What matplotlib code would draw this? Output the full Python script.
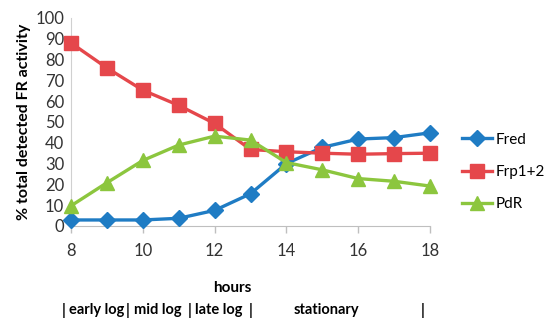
import matplotlib
matplotlib.use("Agg")
import matplotlib.pyplot as plt

hours = [8, 9, 10, 11, 12, 13, 14, 15, 16, 17, 18]
fred = [2.9, 2.9, 2.9, 3.7, 7.5, 15.5, 30, 37.8, 41.8, 42.5, 44.8]
frp = [88, 76, 65.3, 58, 49.3, 36.8, 35.7, 35, 34.5, 34.8, 35]
pdr = [9.7, 20.8, 31.5, 38.9, 43.2, 41.3, 30.5, 27, 22.8, 21.5, 19.2]
xticks = [8, 10, 12, 14, 16, 18]
yticks = list(range(0, 101, 10))
phase_labels = ['|', 'early log', '|', 'mid log', '|', 'late log', '|', 'stationary', '|']

plt.rcParams['font.family'] = ['Lato', 'DejaVu Sans']

fig = plt.figure(figsize=(5.5, 3.36), dpi=100)
ax = fig.add_axes([71/550, 1-226/336, (430-71)/550, (226-18)/336])

cb, cr, cg = '#1f7cc4', '#e5474b', '#8cc63e'
ax.plot(hours, fred, color=cb, lw=2.4, marker='D', ms=8, label='Fred', clip_on=False, zorder=3)
ax.plot(hours, frp, color=cr, lw=2.4, marker='s', ms=10.5, label='Frp1+2', clip_on=False, zorder=3)
ax.plot(hours, pdr, color=cg, lw=2.4, marker='^', ms=10.5, label='PdR', clip_on=False, zorder=3)

ax.set_xlim(8, 18)
ax.set_ylim(0, 100)
ax.set_xticks(xticks)
ax.set_yticks(yticks)
ax.tick_params(axis='y', length=0, labelsize=12, pad=5, colors='#333333')
ax.tick_params(axis='x', length=5, width=1, color='#bfbfbf', labelsize=12, pad=7, labelcolor='#333333')
for s in ['top', 'right']:
    ax.spines[s].set_visible(False)
ax.spines['left'].set_color('#d0d0d0')
ax.spines['bottom'].set_color('#bfbfbf')

ax.set_ylabel('% total detected FR activity', fontsize=11.5, fontweight='bold', labelpad=3)

fig.text(232/550, 1-288/336, 'hours', fontsize=11, fontweight='bold', ha='center', va='center')
phase_x = [64, 96.5, 128, 157.5, 190, 219, 251, 326, 423]
for px, lab in zip(phase_x, phase_labels):
    fig.text(px/550, 1-310/336, lab, fontsize=10.5, fontweight='bold', ha='center', va='center')

ax.legend(loc='center left', bbox_to_anchor=(1.05, 0.26), frameon=False,
          fontsize=11, handlelength=2.0, labelspacing=1.2, handletextpad=0.2)

fig.savefig('out.png', dpi=100)
